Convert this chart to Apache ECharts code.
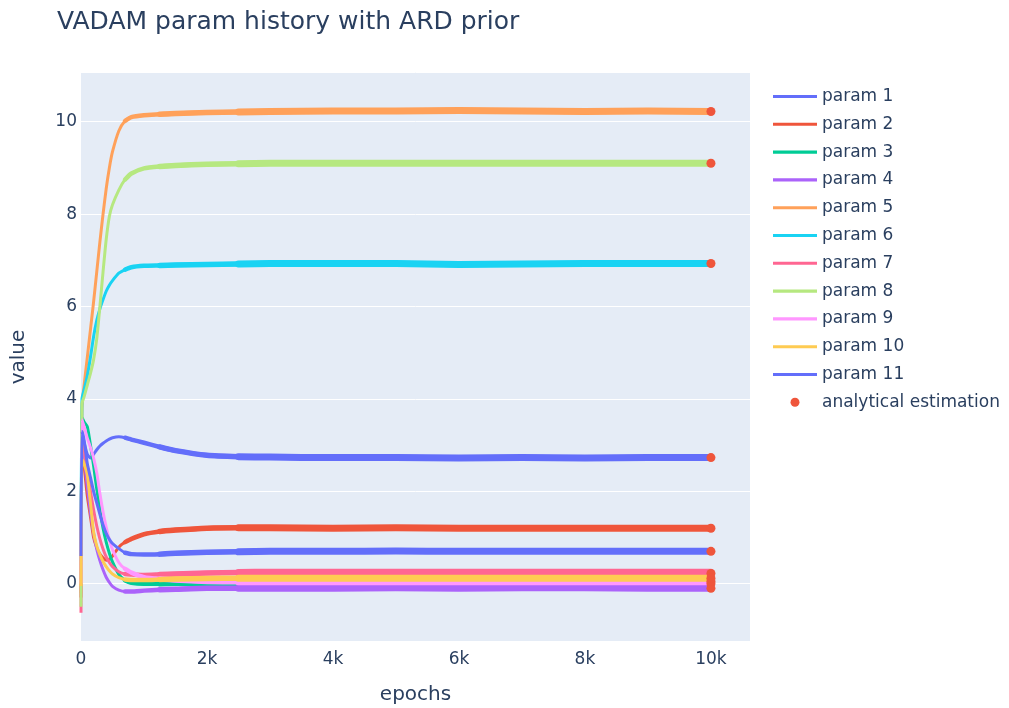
<!DOCTYPE html>
<html>
<head>
<meta charset="utf-8">
<script src="https://cdn.jsdelivr.net/npm/echarts@6/dist/echarts.min.js"></script>
<style>
html,body{margin:0;padding:0;background:#ffffff;}
#chart{width:1009px;height:708px;}
</style>
</head>
<body>
<div id="chart"></div>
<script>
// ---------------- data ----------------
const epochs = [0, 15, 50, 100, 150, 200, 250, 300, 350, 400, 450, 500, 600, 700, 800, 1000, 1250, 1500, 2000, 2500, 3000, 4000, 5000, 6000, 7000, 8000, 9000, 10000];

const param1  = [0.3, 3.25, 3.05, 2.8, 2.72, 2.8, 2.9, 2.98, 3.04, 3.09, 3.13, 3.16, 3.18, 3.16, 3.12, 3.05, 2.96, 2.88, 2.78, 2.75, 2.74, 2.73, 2.73, 2.72, 2.73, 2.72, 2.73, 2.73];
const param2  = [-0.3, 3.0, 2.55, 1.9, 1.45, 1.0, 0.78, 0.64, 0.56, 0.51, 0.53, 0.6, 0.79, 0.9, 0.97, 1.07, 1.13, 1.16, 1.2, 1.21, 1.21, 1.2, 1.21, 1.2, 1.2, 1.2, 1.2, 1.2];
const param3  = [0.1, 3.6, 3.5, 3.4, 3.0, 2.55, 2.05, 1.6, 1.2, 0.9, 0.66, 0.47, 0.2, 0.07, 0.02, 0.0, 0.0, 0.01, 0.01, 0.01, 0.01, 0.01, 0.01, 0.01, 0.01, 0.01, 0.01, 0.01];
const param4  = [0.2, 3.2, 2.8, 2.1, 1.55, 1.1, 0.75, 0.5, 0.3, 0.14, 0.03, -0.06, -0.14, -0.17, -0.17, -0.15, -0.13, -0.12, -0.1, -0.1, -0.1, -0.1, -0.09, -0.1, -0.09, -0.09, -0.1, -0.1];
const param5  = [-0.2, 3.8, 4.3, 4.9, 5.5, 6.1, 6.75, 7.4, 8.0, 8.55, 9.0, 9.35, 9.8, 10.02, 10.1, 10.14, 10.16, 10.18, 10.2, 10.21, 10.22, 10.23, 10.23, 10.24, 10.23, 10.22, 10.23, 10.22];
const param6  = [0.5, 4.0, 4.2, 4.5, 4.9, 5.35, 5.7, 5.95, 6.15, 6.33, 6.46, 6.56, 6.72, 6.8, 6.85, 6.88, 6.89, 6.9, 6.91, 6.92, 6.93, 6.93, 6.93, 6.91, 6.92, 6.93, 6.93, 6.93];
const param7  = [-0.63, 3.3, 2.9, 2.45, 2.0, 1.6, 1.25, 0.97, 0.75, 0.58, 0.46, 0.37, 0.26, 0.21, 0.2, 0.19, 0.2, 0.21, 0.23, 0.24, 0.25, 0.25, 0.25, 0.25, 0.25, 0.25, 0.25, 0.25];
const param8  = [-0.5, 3.9, 4.05, 4.3, 4.55, 4.85, 5.3, 6.0, 6.75, 7.45, 7.95, 8.2, 8.52, 8.75, 8.88, 8.99, 9.03, 9.05, 9.08, 9.09, 9.1, 9.1, 9.1, 9.1, 9.1, 9.1, 9.1, 9.1];
const param9  = [0.0, 3.55, 3.4, 3.15, 2.95, 2.72, 2.4, 1.95, 1.55, 1.22, 0.95, 0.74, 0.46, 0.32, 0.24, 0.14, 0.1, 0.08, 0.05, 0.04, 0.04, 0.04, 0.04, 0.04, 0.04, 0.04, 0.04, 0.04];
const param10 = [-0.05, 2.7, 2.6, 2.35, 1.75, 1.12, 0.82, 0.63, 0.48, 0.37, 0.28, 0.21, 0.13, 0.09, 0.08, 0.08, 0.09, 0.1, 0.11, 0.12, 0.12, 0.12, 0.12, 0.12, 0.12, 0.12, 0.12, 0.12];
const param11 = [0.6, 3.3, 3.1, 2.6, 2.3, 2.0, 1.75, 1.5, 1.27, 1.09, 0.96, 0.87, 0.76, 0.67, 0.64, 0.63, 0.64, 0.66, 0.68, 0.69, 0.7, 0.7, 0.71, 0.7, 0.7, 0.7, 0.7, 0.7];

const analyticalEpoch = 10000;
const analyticalValues = [2.73, 1.2, 0.0, -0.1, 10.22, 6.93, 0.22, 9.1, 0.05, 0.12, 0.7];

const paramNames = ['param 1','param 2','param 3','param 4','param 5','param 6','param 7','param 8','param 9','param 10','param 11'];
const markerName = 'analytical estimation';
const xTickValues = [0, 2000, 4000, 6000, 8000, 10000];
const xTickLabels = ['0', '2k', '4k', '6k', '8k', '10k'];
const yTickValues = [0, 2, 4, 6, 8, 10];

// ---------------- styling ----------------
const paramSeries = [param1, param2, param3, param4, param5, param6, param7, param8, param9, param10, param11];
const colors = ['#636EFA','#EF553B','#00CC96','#AB63FA','#FFA15A','#19D3F3','#FF6692','#B6E880','#FF97FF','#FECB52','#636EFA'];
const markerColor = '#EF553B';
const textColor = '#2a3f5f';
const fontFamily = 'Verdana, "DejaVu Sans", sans-serif';
const X_MIN = 0, X_MAX = 10620;
const Y_MIN = -1.262, Y_MAX = 11.076;
// optimiser jitter band: drawn as a progressively thicker stroke once the run settles
const bandStages = [{ from: 700, width: 4.5 }, { from: 1250, width: 5.5 }, { from: 2500, width: 7 }];

const series = [];
paramSeries.forEach((vals, i) => {
  const pts = epochs.map((e, k) => [e, vals[k]]);
  series.push({
    name: paramNames[i], type: 'line', data: pts,
    symbol: 'none', showSymbol: false, smooth: 0.2,
    lineStyle: { width: 3, color: colors[i], join: 'round' },
    itemStyle: { color: colors[i] },
    emphasis: { disabled: true }
  });
  bandStages.forEach(st => {
    series.push({
      name: paramNames[i], type: 'line', data: pts.filter(p => p[0] >= st.from),
      symbol: 'none', showSymbol: false, smooth: 0.2,
      lineStyle: { width: st.width, color: colors[i], join: 'round', cap: 'round' },
      itemStyle: { color: colors[i] },
      emphasis: { disabled: true }
    });
  });
});
series.push({
  name: markerName, type: 'scatter',
  data: analyticalValues.map(v => [analyticalEpoch, v]),
  symbol: 'circle', symbolSize: 9,
  itemStyle: { color: markerColor, opacity: 1 },
  emphasis: { disabled: true }, z: 5
});

const barIcon = 'path://M0,3L43,3L43,6L0,6Z';
const legendData = paramNames.map(n => ({ name: n, icon: barIcon }))
  .concat([{ name: markerName, icon: 'circle' }]);

const chart = echarts.init(document.getElementById('chart'), null, { renderer: 'canvas' });
chart.setOption({
  animation: false,
  backgroundColor: '#ffffff',
  textStyle: { fontFamily: fontFamily, color: textColor },
  title: {
    text: 'VADAM param history with ARD prior',
    left: 52, top: 5,
    textStyle: { fontFamily: fontFamily, fontSize: 25, fontWeight: 'normal', color: textColor }
  },
  legend: {
    orient: 'vertical', left: 768, top: 83,
    itemWidth: 44, itemHeight: 9, itemGap: 10.8,
    symbolKeepAspect: true,
    data: legendData,
    textStyle: { fontFamily: fontFamily, fontSize: 17, color: textColor },
    selectedMode: false
  },
  grid: {
    left: 81, top: 72, width: 669, height: 570,
    backgroundColor: '#E5ECF6', show: true, borderWidth: 0,
    containLabel: false, outerBoundsMode: 'none'
  },
  xAxis: [{
    type: 'value', min: X_MIN, max: X_MAX, interval: 2000,
    name: 'epochs', nameLocation: 'middle', nameGap: 43,
    nameTextStyle: { fontFamily: fontFamily, fontSize: 20, color: textColor },
    axisLine: { show: false }, axisTick: { show: false }, splitLine: { show: false },
    axisLabel: {
      margin: 9, fontFamily: fontFamily, fontSize: 17, color: textColor,
      formatter: v => { const i = xTickValues.indexOf(v); return i >= 0 ? xTickLabels[i] : ''; }
    }
  }, {
    type: 'value', min: X_MIN, max: X_MAX, position: 'bottom',
    axisLine: { show: true, onZero: true, lineStyle: { color: '#ffffff', width: 3 } },
    axisTick: { show: false }, axisLabel: { show: false }, splitLine: { show: false }
  }],
  yAxis: {
    type: 'value', min: Y_MIN, max: Y_MAX, splitNumber: 6, minInterval: 2, maxInterval: 2,
    name: 'value', nameLocation: 'middle', nameGap: 52, nameRotate: 90,
    nameTextStyle: { fontFamily: fontFamily, fontSize: 20, color: textColor },
    axisLine: { show: false }, axisTick: { show: false },
    splitLine: { show: true, lineStyle: { color: '#ffffff', width: 1 } },
    axisLabel: {
      margin: 4, fontFamily: fontFamily, fontSize: 17, color: textColor,
      formatter: v => { const r = Math.round(v); return (Math.abs(v - r) < 1e-6 && yTickValues.indexOf(r) >= 0) ? String(r) : ''; }
    }
  },
  series: series
});
</script>
</body>
</html>
